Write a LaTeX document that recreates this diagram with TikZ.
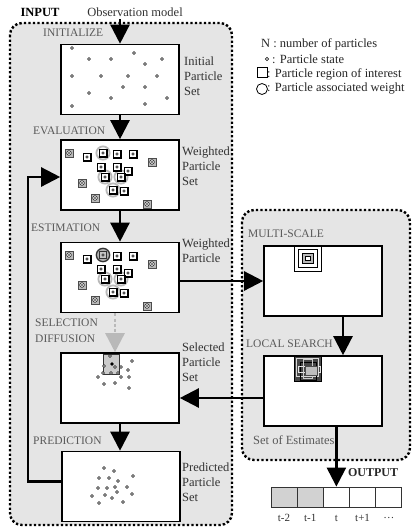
\documentclass[tikz,border=0pt]{standalone}
\usepackage{fontspec}
\setmainfont{Liberation Serif}
\usepackage{xcolor}
\definecolor{panelgray}{RGB}{229,229,229}
\definecolor{labelgray}{RGB}{90,90,90}
\usetikzlibrary{arrows.meta, positioning}

\begin{document}
\begin{tikzpicture}[x=1pt, y=-1pt,
    stage/.style ={rectangle, draw=black, line width=1.6pt, fill=white,
                   minimum width=118pt, minimum height=70pt, inner sep=0pt},
    panel/.style ={draw=black, fill=panelgray, line width=2.4pt,
                   dash pattern=on 2.4pt off 2.1pt, rounded corners=12pt},
    arrow/.style ={line width=2.4pt, -{Triangle[width=19pt, length=19pt]}},
    softarrow/.style={line width=2.6pt, draw=gray!55,
                   dash pattern=on 3pt off 2.2pt,
                   -{Triangle[width=19pt, length=19pt]}},
    stagelabel/.style={font=\fontsize{11.5}{13}\selectfont, text=labelgray,
                   anchor=west, inner sep=0pt},
    setlabel/.style={font=\fontsize{12.5}{15}\selectfont, text=black!80,
                   anchor=west, align=left, inner sep=0pt},
    legend/.style={font=\fontsize{12.5}{14}\selectfont, text=black!85,
                   anchor=west, inner sep=0pt},
    cell/.style ={rectangle, draw=black!80, line width=0.8pt,
                   minimum width=26pt, minimum height=20pt, inner sep=0pt},
    ptstate/.style={draw=black!85, fill=gray!40, line width=0.5pt},
    heavy/.style ={draw=black, fill=white, line width=1.4pt},
    light/.style ={draw=black!70, fill=gray!55, line width=0.6pt},
    ring/.style  ={draw=gray!55, line width=1.8pt}
]
\useasboundingbox (0,0) rectangle (412,528);

%% --- panneaux en pointillés ---
\draw[panel] (10,23) rectangle (232,525);
\draw[panel] (242,210) rectangle (410,460);

%% --- étapes du filtre ---
\node[stage] (init)    at (120,79.5)  {};
\node[stage] (eval)    at (120,175)   {};
\node[stage] (estim)   at (120,277.5) {};
\node[stage] (select)  at (120,388)   {};
\node[stage] (predict) at (121,486.5) {};
\node[stage] (multi)   at (323,281)   {};
\node[stage] (local)   at (323,391)   {};

%% --- titres ---
\node[font=\fontsize{12.5}{14}\selectfont\bfseries] (input) at (40,12) {INPUT};
\node[font=\fontsize{12.5}{14}\selectfont, text=black!80] (obs) at (135,12) {Observation model};
\coordinate (inlet) at (120,19);

\node[stagelabel] at (43,33)   {INITIALIZE};
\node[stagelabel] at (33,131)  {EVALUATION};
\node[stagelabel] at (31,228)  {ESTIMATION};
\node[stagelabel] at (35,323)  {SELECTION};
\node[stagelabel] at (35,339)  {DIFFUSION};
\node[stagelabel] at (33,441)  {PREDICTION};
\node[stagelabel] at (248,234) {MULTI-SCALE};
\node[stagelabel] at (246,344) {LOCAL SEARCH};
\node[setlabel, text=labelgray] at (253,440) {Set of Estimates};

\node[setlabel] at (184,76)  {Initial\\Particle\\Set};
\node[setlabel] at (182,166) {Weighted\\Particle\\Set};
\node[setlabel] at (182,251) {Weighted\\Particle};
\node[setlabel] at (182,362) {Selected\\Particle\\Set};
\node[setlabel] at (182,482) {Predicted\\Particle\\Set};

%% --- légende ---
\node[legend] at (261,44) {N : number of particles};
\draw[ptstate] (267,59) circle (1.8);
\node[legend] at (272,59) {: Particle state};
\draw[black, line width=0.8pt] (257,67) rectangle (267,77);
\node[legend] at (267,74) {: Particle region of interest};
\draw[black, line width=0.8pt] (262,89) circle (5.5);
\node[legend] at (267,89) {: Particle associated weight};

%% --- particules initiales ---
\foreach \px/\py in {72/48, 89/59, 111/59, 134/53, 145/64, 162/59, 72/76,
                     101/76, 128/76, 157/76, 123/87, 145/87, 89/93, 111/98,
                     167/98, 145/104, 72/106}
  \draw[ptstate] (\px,\py) circle (1.5);

%% --- particules pondérées (évaluation et estimation) ---
\foreach \bx/\by in {61/141, 61/243}{
  \begin{scope}[shift={(\bx,\by)}]
    \foreach \px/\py in {8/12, 91/21, 21/42, 34/57, 86/63}{
      \draw[light] (\px,\py) +(-3.8,-3.8) rectangle +(3.8,3.8);
      \draw[black, line width=0.5pt, fill=white] (\px,\py) circle (2.3);
      \fill (\px,\py) circle (0.8);
    }
    \foreach \px/\py in {42/12, 44/36, 60/36, 52/49}
      \draw[ring] (\px,\py) circle (6.6);
    \foreach \px/\py in {26/16, 42/12, 56/13, 72/13, 40/26, 56/26, 67/30,
                         44/36, 60/36, 52/49, 63/50}{
      \draw[heavy] (\px,\py) +(-3.8,-3.8) rectangle +(3.8,3.8);
      \draw[ptstate] (\px,\py) circle (1.3);
    }
  \end{scope}
}
%% meilleure particule
\draw[draw=gray!40!black, fill=gray!60, line width=1.2pt] (103,255) circle (6.6);
\draw[draw=black!80, fill=gray!45, line width=1.2pt] (103,255) +(-3.8,-3.8) rectangle +(3.8,3.8);
\draw[ptstate] (103,255) circle (1.3);

%% --- sélection / diffusion ---
\draw[black!80, fill=gray!40, line width=0.8pt] (103,354) rectangle (119,374);
\foreach \px/\py in {110/356, 104/366, 115/367, 121/367, 132/361, 103/373,
                     111/373, 118/373, 128/370, 98/377, 121/377, 129/377,
                     104/384, 115/383, 129/388}
  \draw[ptstate] (\px,\py) circle (1.5);
\fill (112,364) circle (1.8);

%% --- prédiction ---
\foreach \px/\py in {104/468, 114/471, 133/476, 99/478, 109/478, 118/481,
                     98/488, 107/488, 115/487, 127/487, 117/492, 132/494,
                     92/496, 105/495, 112/498, 99/503, 123/502}
  \draw[ptstate] (\px,\py) circle (1.5);

%% --- multi-échelle ---
\draw[black, fill=white, line width=0.9pt] (294,246) rectangle (321,271);
\draw[black, line width=0.8pt] (298,249) rectangle (317,267);
\draw[black, fill=gray!55, line width=0.6pt] (302,253) rectangle (313,263);
\draw[black, fill=white, line width=0.8pt] (305,256) rectangle (310,260);

%% --- recherche locale ---
\fill[gray!55!black] (294,356) rectangle (321,381);
\draw[gray!30, line width=0.6pt] (296,358) rectangle (318,376);
\draw[black, line width=0.6pt] (300,362) rectangle (316,380);
\draw[gray!20, line width=0.6pt] (298,366) rectangle (320,372);
\draw[gray!40, line width=0.6pt] (303,359) rectangle (312,378);
\draw[black!70, fill=gray!50, line width=0.5pt] (305,366) rectangle (317,375);
\draw[black, line width=1pt] (294,356) rectangle (321,381);

%% --- sortie ---
\foreach \i/\lab [count=\n] in {0/t-2, 1/t-1, 2/t, 3/t+1, 4/\ldots}{
  \node[cell] (out\n) at (284+26.2*\i,497) {};
  \node[font=\fontsize{11}{12}\selectfont, text=black!80] at (284+26.2*\i,518) {\lab};
}
\fill[gray!35] (out1.north west) rectangle (out2.south east);
\foreach \n in {1,2,3,4,5} \node[cell] at (out\n) {};
\node[font=\fontsize{12}{14}\selectfont\bfseries, text=black!85] (output) at (373,473) {OUTPUT};

%% --- flot principal ---
\draw[arrow] (inlet) -- (init.north);
\draw[arrow] (init) -- (eval);
\draw[arrow] (eval) -- (estim);
\draw[softarrow] ([xshift=-5pt]estim.south) -- ([xshift=-5pt]select.north);
\draw[arrow] (select) -- (predict.north -| select);

%% --- branche de recherche ---
\draw[arrow] (estim.east |- multi.west) -- (multi.west);
\draw[arrow] ([xshift=20pt]multi.south) -- ([xshift=20pt]local.north);
\draw[arrow] ([yshift=-7pt]local.west) -- ([yshift=-7pt]local.west -| select.east);
\draw[arrow] (local.south -| out3.north) -- (out3.north);

%% --- boucle de retour ---
\draw[arrow] ([yshift=5pt]predict.west) -- ++(-33,0) |- ([yshift=-2pt]eval.west);
\end{tikzpicture}
\end{document}
